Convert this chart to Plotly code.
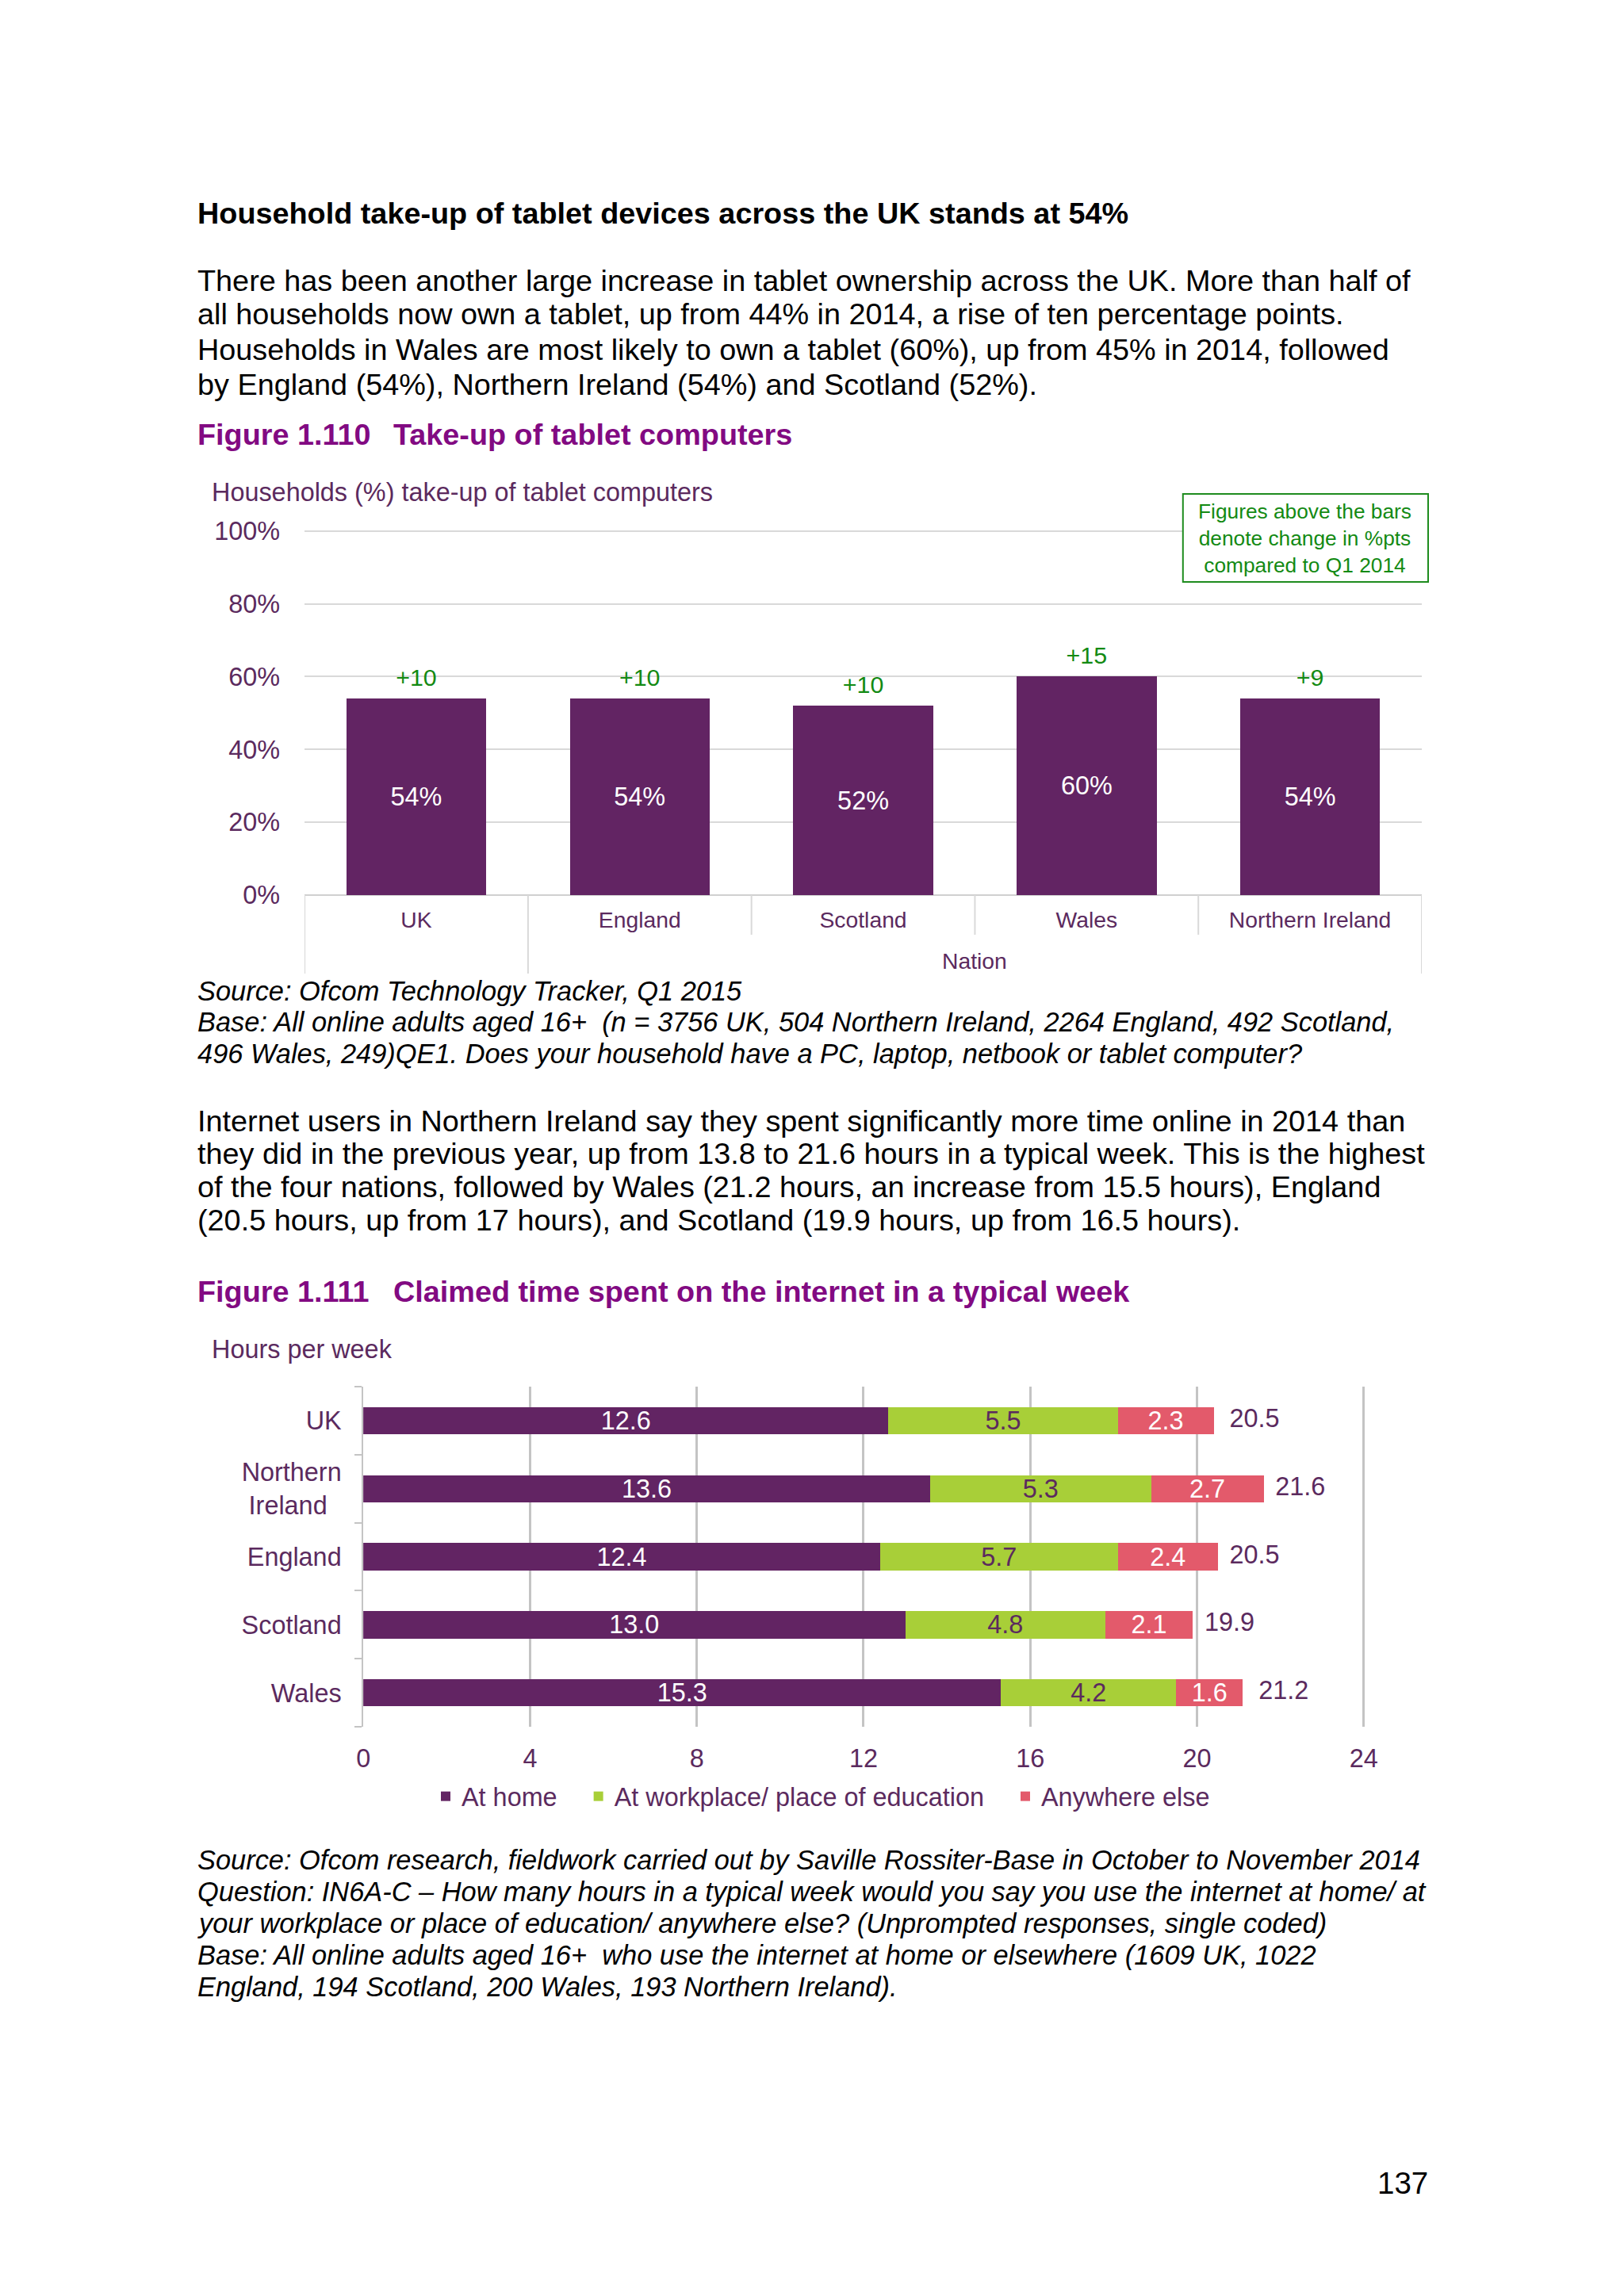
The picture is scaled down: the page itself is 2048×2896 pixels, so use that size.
import plotly.graph_objects as go

W, H = 2048, 2896
# the page photo is slightly shrunk about its centre; compensate layout positions
S = 1.012


def px(x):
    return (W / 2 + (x - W / 2) * S) / W


def py(y):
    return 1 - (H / 2 + (y - H / 2) * S) / H


def fs(v):
    return round(v * S, 1)


# ---------------- data ----------------
nations1 = ["UK", "England", "Scotland", "Wales", "Northern Ireland"]
takeup = [54, 54, 52, 60, 54]
change = ["+10", "+10", "+10", "+15", "+9"]
y1_ticks = [0, 20, 40, 60, 80, 100]
y1_labels = ["0%", "20%", "40%", "60%", "80%", "100%"]

nations2 = ["UK", "Northern Ireland", "England", "Scotland", "Wales"]
nations2_labels = ["UK", "Northern<br>Ireland\u00a0\u00a0", "England", "Scotland", "Wales"]
at_home = [12.6, 13.6, 12.4, 13.0, 15.3]
at_work = [5.5, 5.3, 5.7, 4.8, 4.2]
elsewhere = [2.3, 2.7, 2.4, 2.1, 1.6]
totals = [20.5, 21.6, 20.5, 19.9, 21.2]
x2_ticks = [0, 4, 8, 12, 16, 20, 24]
series_names = ["At home", "At workplace/ place of education", "Anywhere else"]

FONT = "Liberation Sans, Arial, sans-serif"
PURPLE = "#622463"
GREEN_BAR = "#A8CF38"
RED_BAR = "#E35A6B"
TXT = "#5B2A5E"
FIGC = "#820A82"
GREENT = "#138A13"

fig = go.Figure()

# Chart 1
fig.add_trace(go.Bar(
    x=nations1, y=takeup, width=0.626, marker=dict(color=PURPLE, line=dict(width=0)),
    text=[f"{v}%" for v in takeup], texttemplate="%{text}", textposition="inside",
    insidetextanchor="middle",
    textfont=dict(color="white", size=fs(32), family=FONT), showlegend=False,
    xaxis="x", yaxis="y", hoverinfo="skip"))
fig.add_trace(go.Scatter(
    x=nations1, y=takeup, text=change, mode="markers+text", textposition="top center",
    marker=dict(size=12, color="rgba(0,0,0,0)"),
    textfont=dict(color=GREENT, size=fs(30), family=FONT), showlegend=False,
    xaxis="x", yaxis="y", hoverinfo="skip"))

# Chart 2
pad = ["\u00a0\u00a0\u00a0", "\u00a0\u00a0\u00a0", ""]
for name, p, vals, col, fc in [(series_names[0], pad[0], at_home, PURPLE, "white"),
                               (series_names[1], pad[1], at_work, GREEN_BAR, TXT),
                               (series_names[2], pad[2], elsewhere, RED_BAR, "white")]:
    fig.add_trace(go.Bar(
        y=nations2, x=vals, orientation="h", name=name + p, width=0.4,
        marker=dict(color=col, line=dict(width=0)),
        text=[f"{v:.1f}" for v in vals], texttemplate="%{text}",
        textposition="inside", insidetextanchor="middle",
        textfont=dict(color=fc, size=fs(32), family=FONT), constraintext="none",
        xaxis="x2", yaxis="y2", hoverinfo="skip"))
fig.add_trace(go.Scatter(
    y=nations2, x=totals, text=[f"{t:.1f}" for t in totals], mode="markers+text",
    textposition="middle right", marker=dict(size=22, color="rgba(0,0,0,0)"),
    textfont=dict(color=TXT, size=fs(32), family=FONT), showlegend=False,
    xaxis="x2", yaxis="y2", hoverinfo="skip"))

shapes = []
# category dividers chart 1
for i in range(len(nations1) + 1):
    b = i - 0.5
    long_line = i in (0, 1, len(nations1))
    shapes.append(dict(type="line", xref="x", yref="paper", x0=b, x1=b,
                       y0=py(1130), y1=py(1229 if long_line else 1180),
                       line=dict(color="#d9d9d9", width=2)))
# note box chart 1
shapes.append(dict(type="rect", xref="paper", yref="paper", x0=px(1494), x1=px(1803),
                   y0=py(624), y1=py(735), line=dict(color="#1E8C1E", width=2),
                   fillcolor="white", layer="above"))

ann = []


def text_line(x, y, s, size=37.4, color="black", bold=False, italic=False, anchor="left"):
    if bold:
        s = f"<b>{s}</b>"
    if italic:
        s = f"<i>{s}</i>"
    ann.append(dict(xref="paper", yref="paper", x=px(x), y=py(y), text=s, showarrow=False,
                    xanchor=anchor, yanchor="middle",
                    font=dict(size=fs(size), color=color, family=FONT)))


text_line(250, 270, "Household take-up of tablet devices across the UK stands at 54%", size=37.4, bold=True)
para1 = ["There has been another large increase in tablet ownership across the UK. More than half of",
         "all households now own a tablet, up from 44% in 2014, a rise of ten percentage points.",
         "Households in Wales are most likely to own a tablet (60%), up from 45% in 2014, followed",
         "by England (54%), Northern Ireland (54%) and Scotland (52%)."]
for yy, s in zip([355, 397, 442, 486], para1):
    text_line(250, yy, s)
text_line(250, 549, "Figure 1.110", size=37.4, color=FIGC, bold=True)
text_line(497, 549, "Take-up of tablet computers", size=37.4, color=FIGC, bold=True)
text_line(268, 622, "Households (%) take-up of tablet computers", size=32, color=TXT)
ann.append(dict(xref="paper", yref="paper", x=px(1648), y=py(680), showarrow=False,
                text="Figures above the bars<br>denote change in %pts<br>compared to Q1 2014",
                align="center", xanchor="center", yanchor="middle",
                font=dict(size=fs(26), color=GREENT, family=FONT)))
ann.append(dict(xref="x", yref="paper", x=2.5, y=py(1213), showarrow=False, text="Nation",
                xanchor="center", yanchor="middle", font=dict(size=fs(28), color=TXT, family=FONT)))
src1 = ["Source: Ofcom Technology Tracker, Q1 2015",
        "Base: All online adults aged 16+  (n = 3756 UK, 504 Northern Ireland, 2264 England, 492 Scotland,",
        "496 Wales, 249)QE1. Does your household have a PC, laptop, netbook or tablet computer?"]
for yy, s in zip([1251, 1290, 1330], src1):
    text_line(250, yy, s, size=34, italic=True)
para2 = ["Internet users in Northern Ireland say they spent significantly more time online in 2014 than",
         "they did in the previous year, up from 13.8 to 21.6 hours in a typical week. This is the highest",
         "of the four nations, followed by Wales (21.2 hours, an increase from 15.5 hours), England",
         "(20.5 hours, up from 17 hours), and Scotland (19.9 hours, up from 16.5 hours)."]
for yy, s in zip([1415, 1456, 1498, 1540], para2):
    text_line(250, yy, s)
text_line(250, 1630, "Figure 1.111", size=37.4, color=FIGC, bold=True)
text_line(497, 1630, "Claimed time spent on the internet in a typical week", size=37.4, color=FIGC, bold=True)
text_line(268, 1703, "Hours per week", size=32, color=TXT)
src2 = ["Source: Ofcom research, fieldwork carried out by Saville Rossiter-Base in October to November 2014",
        "Question: IN6A-C \u2013 How many hours in a typical week would you say you use the internet at home/ at",
        "your workplace or place of education/ anywhere else? (Unprompted responses, single coded)",
        "Base: All online adults aged 16+  who use the internet at home or elsewhere (1609 UK, 1022",
        "England, 194 Scotland, 200 Wales, 193 Northern Ireland)."]
for yy, s in zip([2347, 2387, 2427, 2467, 2507], src2):
    text_line(250, yy, s, size=34, italic=True)
text_line(1805, 2754, "137", size=38, anchor="right")

fig.update_layout(
    width=W, height=H, margin=dict(l=0, r=0, t=0, b=0),
    paper_bgcolor="white", plot_bgcolor="white",
    font=dict(family=FONT, color=TXT),
    barmode="stack",
    xaxis=dict(domain=[px(387), px(1795)], type="category", range=[-0.5, 4.5],
               showgrid=False, showline=False, zeroline=False, ticks="",
               tickfont=dict(size=fs(28), color=TXT), ticklabelstandoff=12, fixedrange=True),
    yaxis=dict(domain=[py(1130), py(669)], range=[0, 100.4], tickvals=y1_ticks, ticktext=y1_labels,
               showgrid=True, gridcolor="#d9d9d9", gridwidth=2, zeroline=True,
               zerolinecolor="#d0d0d0", zerolinewidth=2, showline=False, ticks="",
               tickfont=dict(size=fs(32), color=TXT), ticklabelstandoff=30, fixedrange=True),
    xaxis2=dict(domain=[px(461), px(1726)], range=[0, 24.08], tickvals=x2_ticks, anchor="y2",
                showgrid=True, gridcolor="#c4c4c4", gridwidth=3, zeroline=False, showline=False,
                ticks="", tickfont=dict(size=fs(32), color=TXT), ticklabelstandoff=18, fixedrange=True),
    yaxis2=dict(domain=[py(2179), py(1750)], anchor="x2", type="category",
                tickvals=nations2, ticktext=nations2_labels, autorange="reversed",
                showgrid=False, zeroline=False, showline=True, linecolor="#c4c4c4", linewidth=2,
                ticks="outside", tickson="boundaries", ticklen=9, tickcolor="#c4c4c4", tickwidth=2,
                tickfont=dict(size=fs(32), color=TXT), ticklabelstandoff=19, fixedrange=True),
    legend=dict(orientation="h", x=px(1039), xanchor="center", y=py(2267), yanchor="middle",
                font=dict(size=fs(32), color=TXT, family=FONT), bgcolor="rgba(0,0,0,0)",
                traceorder="normal"),
    shapes=shapes, annotations=ann,
)

fig.write_html("out.html", config={"displayModeBar": False},
               post_script="document.documentElement.style.margin='0';"
                           "document.body.style.margin='0';"
                           "document.body.style.overflow='hidden';")
